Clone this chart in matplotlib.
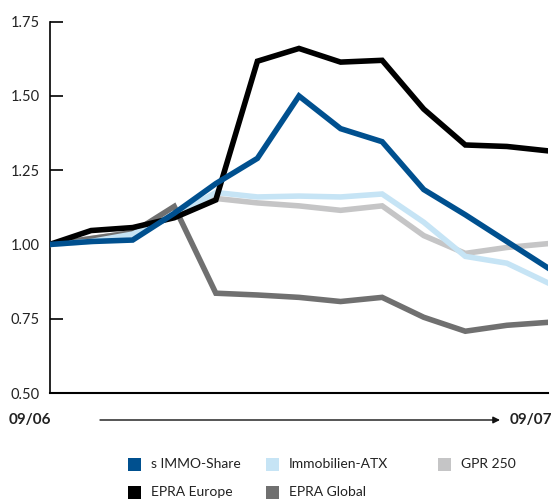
import matplotlib.pyplot as plt
from matplotlib.patches import Rectangle

plt.rcParams['font.family'] = ['Lato', 'DejaVu Sans']

# monthly index values, 09/06 .. 09/07 (start = 1.00)
months = ['09/06', '10/06', '11/06', '12/06', '01/07', '02/07', '03/07',
          '04/07', '05/07', '06/07', '07/07', '08/07', '09/07']

s_immo = [1.00, 1.01, 1.015, 1.105, 1.205, 1.29, 1.50, 1.39, 1.346, 1.185, 1.10, 1.01, 0.92]
immo_atx = [1.00, 1.01, 1.035, 1.097, 1.175, 1.16, 1.163, 1.16, 1.17, 1.075, 0.96, 0.937, 0.87]
gpr_250 = [1.00, 1.02, 1.04, 1.10, 1.155, 1.14, 1.13, 1.115, 1.13, 1.03, 0.97, 0.99, 1.003]
epra_europe = [1.00, 1.047, 1.057, 1.09, 1.15, 1.617, 1.66, 1.614, 1.62, 1.456, 1.335, 1.33, 1.315]
epra_global = [1.00, 1.02, 1.04, 1.128, 0.836, 0.83, 0.822, 0.808, 0.822, 0.755, 0.708, 0.728, 0.738]

labels = ['s IMMO-Share', 'Immobilien-ATX', 'GPR 250', 'EPRA Europe', 'EPRA Global']
colors = ['#00508f', '#c6e4f5', '#c5c5c6', '#000000', '#707070']
series = [s_immo, immo_atx, gpr_250, epra_europe, epra_global]
zorders = [6, 4, 2, 5, 3]

yticks = [0.50, 0.75, 1.00, 1.25, 1.50, 1.75]

fig = plt.figure(figsize=(5.54, 4.99), dpi=100)
ax = fig.add_axes([0.0894, 0.2124, 0.9006, 0.7441])

x = list(range(len(months)))
for vals, c, z in zip(series, colors, zorders):
    ax.plot(x, vals, color=c, lw=4.0, zorder=z, solid_joinstyle='miter')

ax.set_xlim(0, len(months) - 1)
ax.set_ylim(0.5, 1.75)
ax.set_yticks(yticks)
ax.set_yticklabels([f'{t:.2f}' for t in yticks], fontsize=10.5, color='#222222')
ax.set_xticks([])
ax.tick_params(axis='y', direction='in', length=9, width=1.2, pad=7)
for s in ['top', 'right']:
    ax.spines[s].set_visible(False)
ax.spines['left'].set_linewidth(1.2)
ax.spines['bottom'].set_linewidth(1.5)

# time arrow under the plot
fig.text(9 / 554, 1 - 420 / 499, months[0], ha='left', va='center',
         fontsize=11, fontweight='bold', color='#222222')
fig.text(552 / 554, 1 - 420 / 499, months[-1], ha='right', va='center',
         fontsize=11, fontweight='bold', color='#222222')
ax.annotate('', xy=(500 / 554, 1 - 420 / 499), xytext=(100 / 554, 1 - 420 / 499),
            xycoords='figure fraction', textcoords='figure fraction',
            arrowprops=dict(arrowstyle='-|>', color='#111111', lw=1.0,
                            mutation_scale=10, shrinkA=0, shrinkB=0))

# legend: 3 columns, 2 rows
col_x = [128, 266, 438]
row_y = [464, 492]
for i, (lab, c) in enumerate(zip(labels, colors)):
    cx = col_x[i % 3]
    cy = row_y[i // 3]
    fig.patches.append(Rectangle((cx / 554, 1 - (cy + 6.5) / 499), 13 / 554, 13 / 499,
                                 transform=fig.transFigure, facecolor=c,
                                 edgecolor='none', figure=fig))
    fig.text((cx + 23) / 554, 1 - cy / 499, lab, ha='left', va='center',
             fontsize=10, color='#222222')

fig.savefig('out.png', dpi=100)
